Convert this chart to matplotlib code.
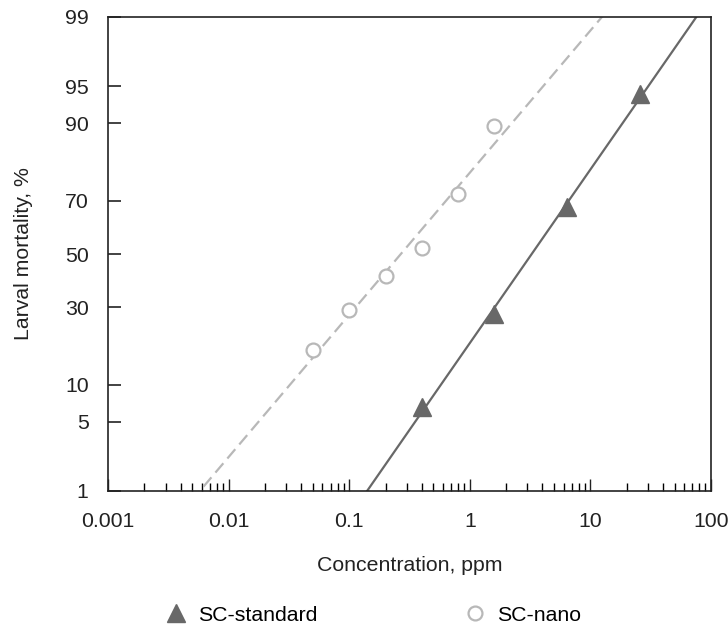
import matplotlib
matplotlib.use("Agg")
import matplotlib.pyplot as plt
import matplotlib.ticker as mticker
from statistics import NormalDist
import numpy as np

plt.rcParams['font.family'] = ['Liberation Sans', 'DejaVu Sans']

# concentrations (ppm) and larval mortality (%)
std_conc = [0.4, 1.6, 6.4, 25.6]
std_mort = [6.7, 27.8, 67.7, 94.2]
nano_conc = [0.05, 0.1, 0.2, 0.4, 0.8, 1.6]
nano_mort = [17.3, 29.0, 41.6, 52.2, 72.2, 89.6]

y_ticks = [1, 5, 10, 30, 50, 70, 90, 95, 99]
x_ticks = [0.001, 0.01, 0.1, 1, 10, 100]
x_labels = ['0.001', '0.01', '0.1', '1', '10', '100']

_nd = NormalDist()
_ppf = np.vectorize(_nd.inv_cdf, otypes=[float])
_cdf = np.vectorize(_nd.cdf, otypes=[float])


def probit(p):
    p = np.clip(np.asarray(p, dtype=float) / 100.0, 1e-9, 1 - 1e-9)
    return _ppf(p)


def inv_probit(z):
    return 100.0 * _cdf(np.asarray(z, dtype=float))


def probit_fit(conc, mort):
    # straight line in log10(conc) vs probit space
    a, b = np.polyfit(np.log10(conc), probit(mort), 1)
    xx = np.logspace(-3, 2, 300)
    return xx, inv_probit(a * np.log10(xx) + b)


fig = plt.figure(figsize=(7.28, 6.25), dpi=100)
ax = fig.add_axes([0.1484, 0.2144, 0.8282, 0.7584])

ax.set_xscale('log')
ax.set_yscale('function', functions=(probit, inv_probit))
ax.set_xlim(0.001, 100)
ax.set_ylim(1, 99)

dark = '#686868'
light = '#b8b8b8'
fs = 15.3

xx, yy = probit_fit(std_conc, std_mort)
ax.plot(xx, yy, color=dark, lw=1.6, zorder=2)
xx, yy = probit_fit(nano_conc, nano_mort)
ax.plot(xx, yy, color=light, lw=1.6, ls=(0, (5.5, 2.8)), zorder=2)

h1, = ax.plot(std_conc, std_mort, ls='none', marker='^', ms=13,
              color=dark, mec=dark, zorder=3, label='SC-standard')
h2, = ax.plot(nano_conc, nano_mort, ls='none', marker='o', ms=10,
              mfc='white', mec=light, mew=1.6, zorder=3, label='SC-nano')

ax.yaxis.set_major_locator(mticker.FixedLocator(y_ticks))
ax.yaxis.set_major_formatter(mticker.FixedFormatter([str(v) for v in y_ticks]))
ax.yaxis.set_minor_locator(mticker.NullLocator())
ax.xaxis.set_major_locator(mticker.FixedLocator(x_ticks))
ax.xaxis.set_major_formatter(mticker.FixedFormatter(x_labels))
ax.xaxis.set_minor_locator(mticker.LogLocator(base=10, subs=np.arange(2, 10)))
ax.xaxis.set_minor_formatter(mticker.NullFormatter())

ax.tick_params(axis='y', direction='in', length=9.5, width=1.2, pad=14,
               labelsize=fs, colors='#222222')
ax.tick_params(axis='x', which='major', direction='in', length=8.5, width=1.0,
               pad=15, labelsize=fs, colors='#222222')
ax.tick_params(axis='x', which='minor', direction='in', length=5.5, width=1.0)
for s in ax.spines.values():
    s.set_linewidth(1.2)
    s.set_color('#222222')

ax.set_ylabel('Larval mortality, %', fontsize=fs, color='#222222', labelpad=23)
ax.set_xlabel('Concentration, ppm', fontsize=fs, color='#222222', labelpad=18)

fig.legend(handles=[h1, h2], loc='lower center', bbox_to_anchor=(0.513, -0.03),
           ncol=2, frameon=False, fontsize=fs, handlelength=1.0,
           handletextpad=0.55, columnspacing=6.9)

fig.savefig('out.png', dpi=100)
